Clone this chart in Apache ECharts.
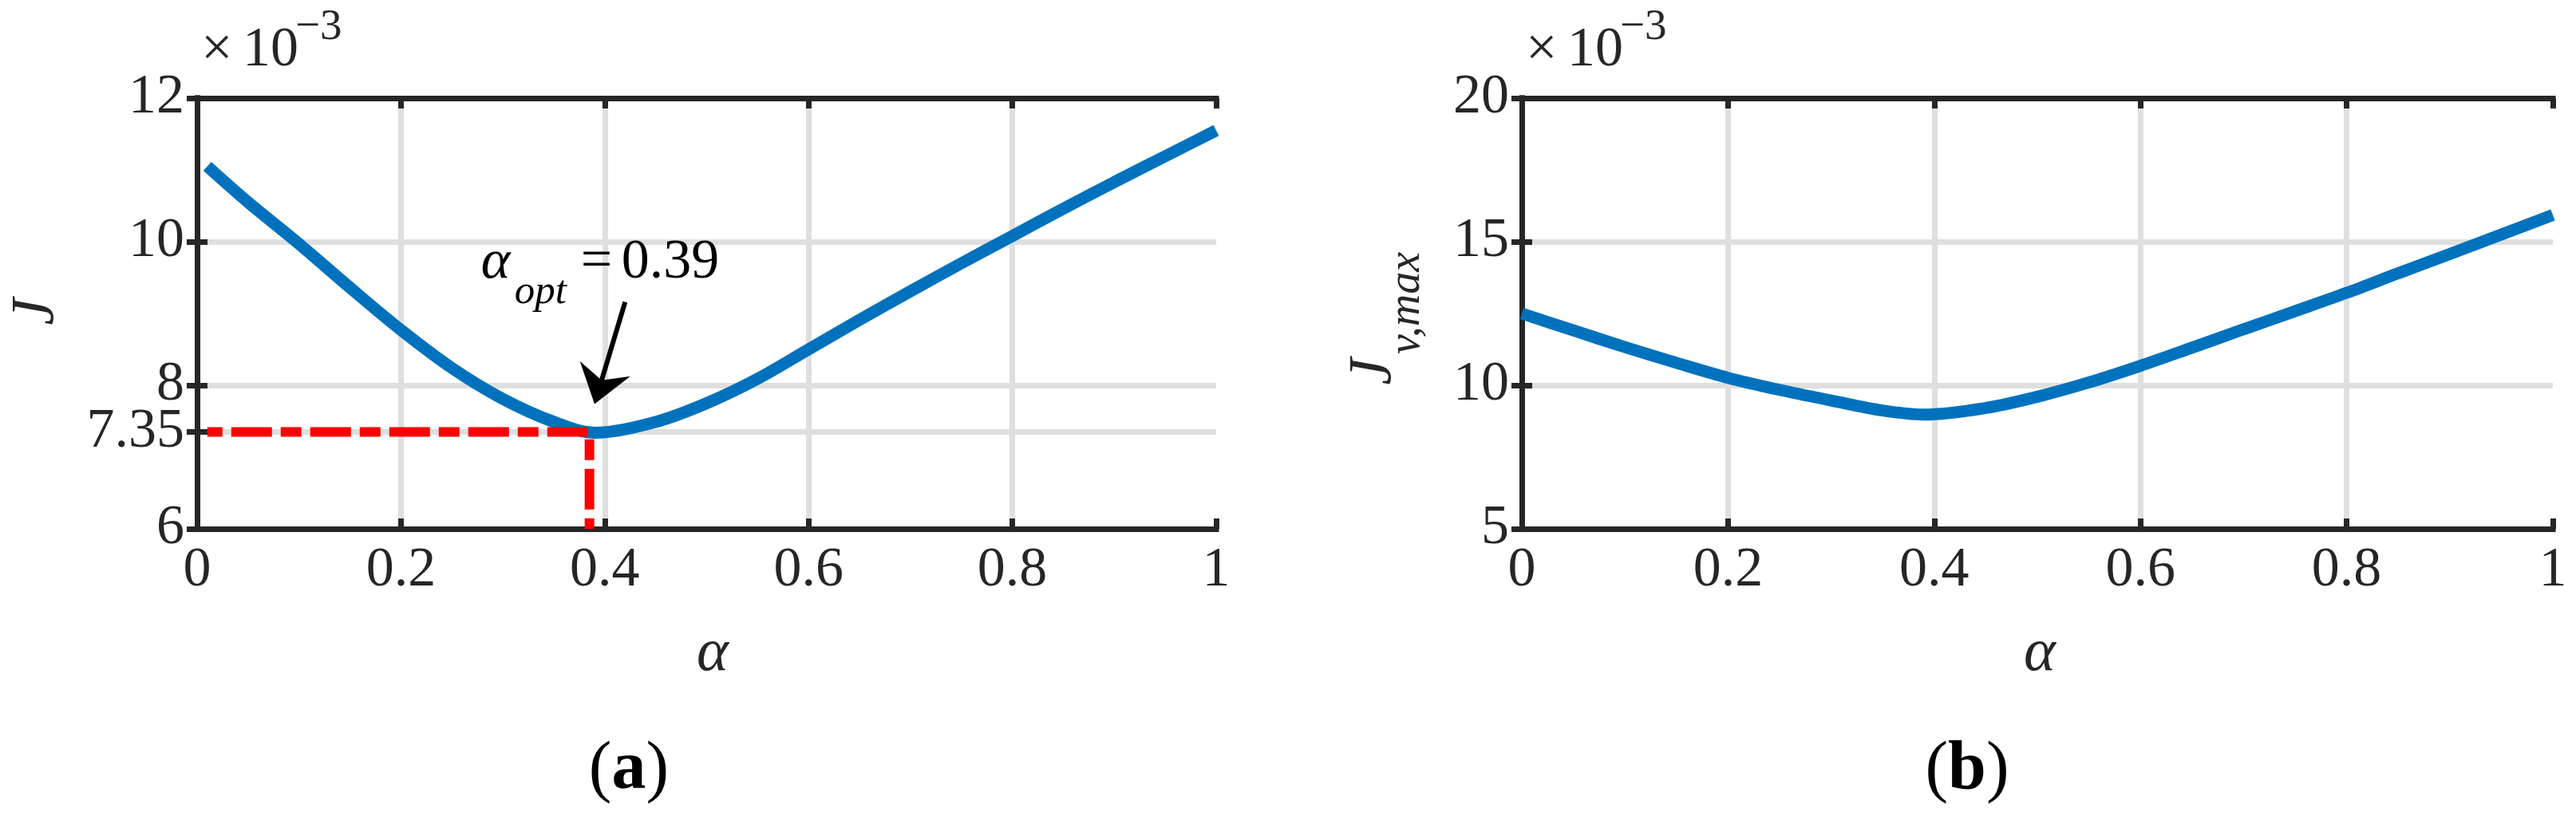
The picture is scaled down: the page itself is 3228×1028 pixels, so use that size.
<!DOCTYPE html>
<html><head><meta charset="utf-8">
<script src="https://cdn.jsdelivr.net/npm/echarts@6/dist/echarts.min.js"></script>
<style>html,body{margin:0;padding:0;background:#fff}#c{width:3228px;height:1028px}</style>
</head><body><div id="c"></div>
<script>
// ---- data ----
const alphaA = [0.01,0.05,0.10,0.15,0.20,0.25,0.30,0.35,0.39,0.45,0.50,0.55,0.60,0.65,0.70,0.75,0.80,0.85,0.90,0.95,1.00];
const costJ  = [11.05,10.55,9.97,9.36,8.77,8.24,7.81,7.49,7.34,7.49,7.75,8.09,8.50,8.91,9.31,9.70,10.08,10.46,10.83,11.19,11.55];
const alphaB = [0.00,0.05,0.10,0.15,0.20,0.25,0.30,0.35,0.39,0.45,0.50,0.55,0.60,0.65,0.70,0.75,0.80,0.85,0.90,0.95,1.00];
const costJv = [12.50,11.91,11.33,10.78,10.26,9.84,9.47,9.12,8.98,9.21,9.60,10.10,10.68,11.31,11.95,12.58,13.22,13.90,14.57,15.25,15.93];
const xTickLabels = [0,0.2,0.4,0.6,0.8,1];
const yTicksA = [6,7.35,8,10,12];
const yTicksB = [5,10,15,20];
const optLineX = [0.01,0.385,0.385];
const optLineY = [7.35,7.35,6];
const optText = '0.39';
const arrowTail = [0.42,9.16];
const arrowTip = [0.39,7.74];
const annotAnchor = [0.2786,9.70];

const FONT = '"Liberation Serif","Times New Roman",serif';
const AX = '#262626', GRIDC = '#dfdfdf';
const chart = echarts.init(document.getElementById('c'));

const grids = [
  {left:247, top:123, width:1277, height:540, outerBoundsMode:'none'},
  {left:1907, top:123, width:1292, height:540, outerBoundsMode:'none'}
];
function xAxes(g){
  const base = {gridIndex:g, type:'value', min:0, max:1, interval:0.2};
  return [
    Object.assign({}, base, {position:'bottom', z:0, axisLine:{show:false}, axisTick:{show:false}, axisLabel:{show:false},
      splitLine:{show:true, showMinLine:false, showMaxLine:false, lineStyle:{color:GRIDC, width:7}}}),
    Object.assign({}, base, {position:'bottom', z:1, axisLine:{show:true, lineStyle:{color:AX, width:7, cap:'square'}},
      axisTick:{show:true, inside:true, length:13, lineStyle:{color:AX, width:7}},
      axisLabel:{show:true, margin:18, color:AX, fontFamily:FONT, fontSize:70,
        formatter:v=>{const t=xTickLabels.find(x=>Math.abs(x-v)<1e-9);return t===undefined?'':String(t);}},
      splitLine:{show:false}}),
    Object.assign({}, base, {position:'top', z:1, axisLine:{show:true, lineStyle:{color:AX, width:7, cap:'square'}},
      axisTick:{show:true, inside:true, length:13, lineStyle:{color:AX, width:7}}, axisLabel:{show:false}, splitLine:{show:false}})
  ];
}
function yAxes(g, ticks){
  const base = {gridIndex:g, type:'value', min:ticks[0], max:ticks[ticks.length-1]};
  const tk = {customValues:ticks};
  return [
    Object.assign({}, base, {position:'left', z:0, axisLine:{show:false}, axisTick:Object.assign({show:false},tk), axisLabel:{show:false, customValues:ticks},
      splitLine:{show:true, showMinLine:false, showMaxLine:false, lineStyle:{color:GRIDC, width:7}}}),
    Object.assign({}, base, {position:'left', z:1, axisLine:{show:true, lineStyle:{color:AX, width:7, cap:'square'}},
      axisTick:Object.assign({show:true, inside:true, length:13, lineStyle:{color:AX, width:7}},tk),
      axisLabel:{show:true, customValues:ticks, margin:16, color:AX, fontFamily:FONT, fontSize:70, padding:[0,0,20,0]},
      splitLine:{show:false}}),
    Object.assign({}, base, {position:'right', z:1, axisLine:{show:true, lineStyle:{color:AX, width:7, cap:'square'}},
      axisTick:Object.assign({show:true, inside:true, length:13, lineStyle:{color:AX, width:7}},tk), axisLabel:{show:false, customValues:ticks}, splitLine:{show:false}})
  ];
}

function renderAnnot(params, api){
  const a = api.coord(annotAnchor);
  const t0 = api.coord(arrowTail), t1 = api.coord(arrowTip);
  const dx=t1[0]-t0[0], dy=t1[1]-t0[1], L=Math.hypot(dx,dy);
  const ux=dx/L, uy=dy/L, px=-uy, py=ux;
  const headL=46, headW=33, notch=31;
  const bx=t1[0]-ux*headL, by=t1[1]-uy*headL;
  const nx=t1[0]-ux*notch, ny=t1[1]-uy*notch;
  const txt=(s,x,y,size)=>({type:'text', x:x, y:y, style:{text:s, font:size, fill:'#000', align:'left', verticalAlign:'middle'}});
  return {type:'group', children:[
    {type:'line', shape:{x1:t0[0],y1:t0[1],x2:nx,y2:ny}, style:{stroke:'#000', lineWidth:6}},
    {type:'polygon', shape:{points:[[t1[0],t1[1]],[bx+px*headW,by+py*headW],[nx,ny],[bx-px*headW,by-py*headW]]}, style:{fill:'#000'}},
    txt('α', a[0], a[1], 'italic 70px '+FONT),
    txt('opt', a[0]+42, a[1]+37, 'italic 51px '+FONT),
    txt('=', a[0]+125, a[1], '70px '+FONT),
    txt(optText, a[0]+176, a[1], '70px '+FONT)
  ]};
}

const gtext=(s,x,y,font,extra)=>Object.assign({type:'text', x:x, y:y, style:{text:s, font:font, fill:AX, align:'left', verticalAlign:'middle'}}, extra||{});

const option = {
  animation:false,
  backgroundColor:'#fff',
  grid: grids,
  xAxis: xAxes(0).concat(xAxes(1)),
  yAxis: yAxes(0, yTicksA).concat(yAxes(1, yTicksB)),
  series: [
    {type:'line', xAxisIndex:1, yAxisIndex:1, z:2, data:alphaA.map((x,i)=>[x,costJ[i]]), smooth:0.33, symbol:'none',
      lineStyle:{color:'#0072BD', width:15, cap:'butt'}},
    {type:'line', xAxisIndex:1, yAxisIndex:1, z:3, data:optLineX.map((x,i)=>[x,optLineY[i]]), symbol:'none',
      lineStyle:{color:'#ff0000', width:12, type:[51,11,26,11], dashOffset:69, cap:'butt', join:'miter'}},
    {type:'custom', xAxisIndex:1, yAxisIndex:1, z:4, data:[arrowTip], renderItem:renderAnnot, clip:false},
    {type:'line', xAxisIndex:4, yAxisIndex:4, z:2, data:alphaB.map((x,i)=>[x,costJv[i]]), smooth:0.33, symbol:'none',
      lineStyle:{color:'#0072BD', width:15, cap:'butt'}}
  ],
  graphic: [
    gtext('×', 252, 64, '70px '+FONT), gtext('10', 304, 64, '70px '+FONT), gtext('−3', 370, 35, '55px '+FONT),
    gtext('×', 1912, 64, '70px '+FONT), gtext('10', 1964, 64, '70px '+FONT), gtext('−3', 2030, 35, '55px '+FONT),
    {type:'text', x:46, y:391, rotation:Math.PI/2, style:{text:'J', font:'italic 76px '+FONT, fill:AX, align:'center', verticalAlign:'middle'}},
    {type:'text', x:1722, y:466, rotation:Math.PI/2, style:{text:'J', font:'italic 76px '+FONT, fill:AX, align:'center', verticalAlign:'middle'}},
    {type:'text', x:1763, y:380, rotation:Math.PI/2, style:{text:'v,max', font:'italic 56px '+FONT, fill:AX, align:'center', verticalAlign:'middle'}},
    {type:'text', x:893, y:820, style:{text:'α', font:'italic 76px '+FONT, fill:AX, align:'center', verticalAlign:'middle'}},
    {type:'text', x:2556, y:820, style:{text:'α', font:'italic 76px '+FONT, fill:AX, align:'center', verticalAlign:'middle'}},
    {type:'text', x:788, y:966, style:{text:'{p|(}{b|a}{p|)}', align:'center', verticalAlign:'middle',
      rich:{p:{fontFamily:FONT, fontSize:86, color:'#000'}, b:{fontFamily:FONT, fontSize:86, fontWeight:'bold', color:'#000'}}}},
    {type:'text', x:2465, y:966, style:{text:'{p|(}{b|b}{p|)}', align:'center', verticalAlign:'middle',
      rich:{p:{fontFamily:FONT, fontSize:86, color:'#000'}, b:{fontFamily:FONT, fontSize:86, fontWeight:'bold', color:'#000'}}}}
  ]
};
chart.setOption(option);
</script>
</body></html>
